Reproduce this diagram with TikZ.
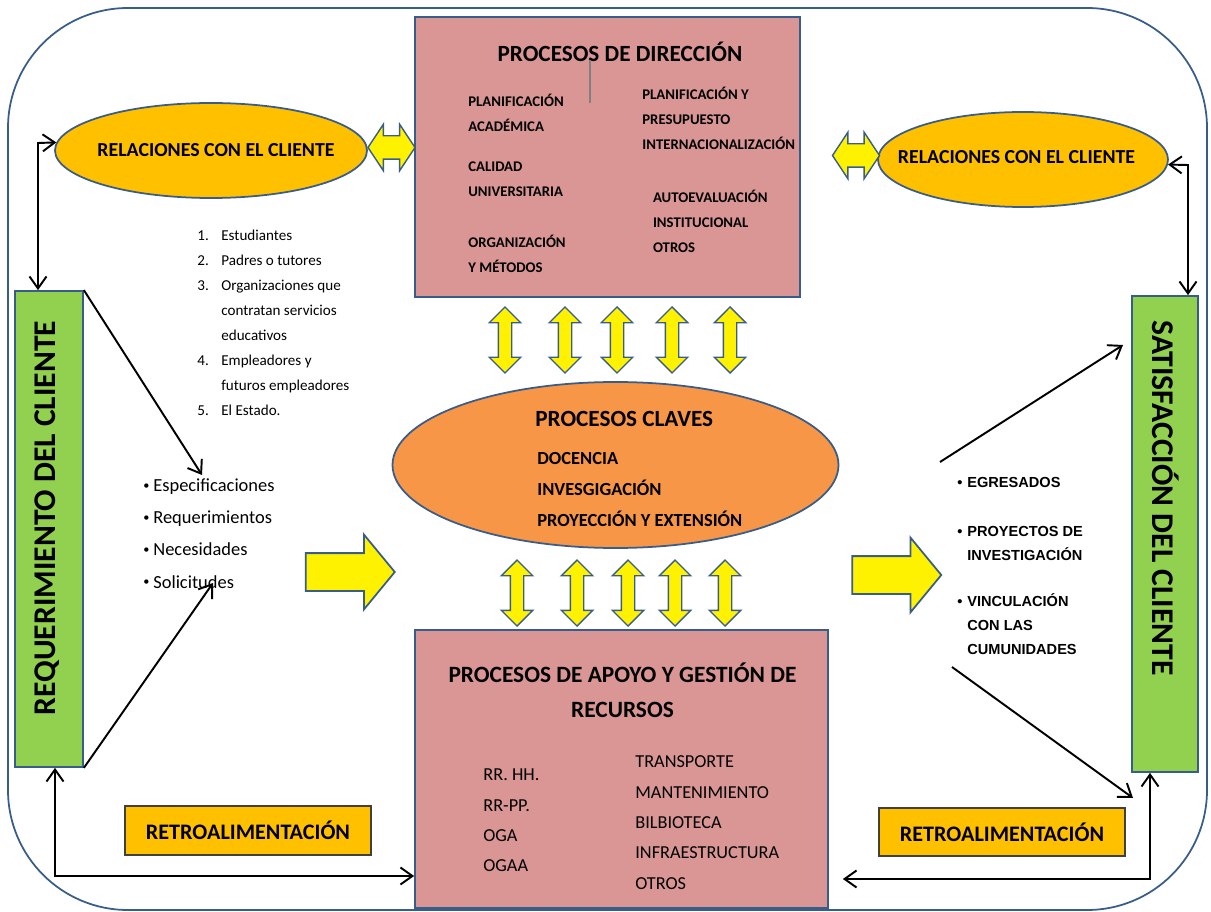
\documentclass[tikz,border=0pt]{standalone}
\usepackage{fontspec}
\setmainfont{Carlito}
\newfontfamily\arialfont{Liberation Sans}
\usetikzlibrary{shapes.geometric,shapes.arrows,arrows.meta}
\definecolor{dirpink}{HTML}{D99694}
\definecolor{edgeblue}{HTML}{385D8A}
\definecolor{gold}{HTML}{FFC000}
\definecolor{leafgreen}{HTML}{92D050}
\definecolor{keyorange}{HTML}{F79646}
\newcommand{\px}{0.02cm}
\newcommand{\fsDirTitle}{\fontsize{13.2}{16}\selectfont\bfseries}
\newcommand{\fsDir}{\fontsize{8.4}{14.3}\selectfont\bfseries}
\newcommand{\fsRel}{\fontsize{11.3}{13}\selectfont\bfseries}
\newcommand{\fsList}{\fontsize{8.6}{14.3}\selectfont}
\newcommand{\fsBullet}{\fontsize{10.5}{18.3}\selectfont}
\newcommand{\fsClaveTitle}{\fontsize{13.2}{16}\selectfont\bfseries}
\newcommand{\fsClave}{\fontsize{10.5}{17.4}\selectfont\bfseries}
\newcommand{\fsApoyoTitle}{\fontsize{13.3}{19.9}\selectfont\bfseries}
\newcommand{\fsApoyo}{\fontsize{10.4}{17.25}\selectfont}
\newcommand{\fsRetro}{\fontsize{12.6}{15}\selectfont\bfseries}
\newcommand{\fsSide}{\fontsize{18}{22}\selectfont\bfseries}
\newcommand{\fsOut}{\arialfont\fontsize{8.3}{13.4}\selectfont\bfseries}
\newcommand{\bul}{\makebox[0.2cm][l]{\fontsize{7}{7}\selectfont\raisebox{0.35ex}{•}}}
\newcommand{\bulA}{\makebox[0.2cm][l]{•}}
\tikzset{
  >={Straight Barb[length=2.4mm,width=3.4mm]},
  box/.style={draw=edgeblue, line width=1pt, inner sep=0pt},
  txt/.style={anchor=base west, inner sep=0pt, align=left},
  link/.style={line width=1.1pt, black},
  hdarrow/.style={double arrow, draw=edgeblue, fill=yellow, line width=0.8pt,
    inner xsep=0pt, inner ysep=11*\px, double arrow head extend=11.5*\px,
    double arrow tip angle=113, minimum height=47*\px},
  vdarrow/.style={double arrow, rotate=90, draw=edgeblue, fill=yellow, line width=0.8pt,
    inner xsep=0pt, inner ysep=6*\px, double arrow head extend=9*\px,
    double arrow tip angle=90, minimum height=66*\px},
  barrow/.style={single arrow, draw=edgeblue, fill=yellow, line width=1pt,
    inner xsep=0pt, inner ysep=18*\px, single arrow head extend=18.5*\px,
    single arrow tip angle=101, minimum height=89*\px}
}
\begin{document}
\begin{tikzpicture}[x=\px, y=-\px]
\useasboundingbox (0,0) rectangle (1211,912);
%frame
\draw[draw=edgeblue, line width=1pt, rounded corners=2.4cm] (8,8) rectangle (1207,910);
%direccion (multi-line texts sit on their last line)
\node[box, fill=dirpink, minimum width=385*\px, minimum height=280*\px] (dir) at (607.5,157) {};
\node[anchor=base, inner sep=0pt, font=\fsDirTitle] (dirT) at (620,61.7) {PROCESOS DE DIRECCIÓN};
\draw[gray, line width=0.6pt] (590,60) -- (590,102.7);
\node[txt, font=\fsDir] (planA) at (468,131.7) {PLANIFICACIÓN\\ACADÉMICA};
\node[txt, font=\fsDir] (calidad) at (468,197) {CALIDAD\\UNIVERSITARIA};
\node[txt, font=\fsDir] (orgM) at (468,272.7) {ORGANIZACIÓN\\Y MÉTODOS};
\node[txt, font=\fsDir] (planP) at (642,150) {PLANIFICACIÓN Y\\PRESUPUESTO\\INTERNACIONALIZACIÓN};
\node[txt, font=\fsDir] (autoev) at (652.7,253) {AUTOEVALUACIÓN\\INSTITUCIONAL\\OTROS};
%relaciones
\node[ellipse, draw=edgeblue, line width=1pt, fill=gold, minimum width=312*\px, minimum height=95*\px,
  inner sep=0pt] (relL) at (211,150.5) {};
\node[inner sep=0pt, font=\fsRel] (relLT) at (216,150) {RELACIONES CON EL CLIENTE};
\node[ellipse, draw=edgeblue, line width=1pt, fill=gold, minimum width=290*\px, minimum height=95*\px,
  inner sep=0pt] (relR) at (1023,159.5) {};
\node[inner sep=0pt, font=\fsRel] (relRT) at (1016.5,157.3) {RELACIONES CON EL CLIENTE};
\node[hdarrow] (dL) at (391.5,147.5) {};
\node[hdarrow] (dR) at (856,155.5) {};
%claves
\node[ellipse, draw=edgeblue, line width=1pt, fill=keyorange, minimum width=446*\px, minimum height=166*\px] (claves) at (615.5,465) {};
\node[anchor=base west, inner sep=0pt, font=\fsClaveTitle] (clavesT) at (535,426.7) {PROCESOS CLAVES};
\node[txt, font=\fsClave] (clavesL) at (537,526) {DOCENCIA\\INVESGIGACIÓN\\PROYECCIÓN Y EXTENSIÓN};
\foreach \x [count=\i] in {505,565,617,672,730}
  \node[vdarrow] (up\i) at (\x,340) {};
\foreach \x [count=\i] in {517,577,628,675,725}
  \node[vdarrow] (down\i) at (\x,593) {};
%apoyo
\node[box, fill=dirpink, minimum width=413*\px, minimum height=278*\px] (apoyo) at (621.5,769) {};
\node[anchor=base, inner sep=0pt, align=center, font=\fsApoyoTitle] (apoyoT) at (622.5,717) {PROCESOS DE APOYO Y GESTIÓN DE\\RECURSOS};
\node[txt, font=\fsApoyo] (apoyoL) at (483,871.7) {RR. HH.\\RR-PP.\\OGA\\OGAA};
\node[txt, font=\fsApoyo] (apoyoR) at (635,889) {TRANSPORTE\\MANTENIMIENTO\\BILBIOTECA\\INFRAESTRUCTURA\\OTROS};
%cliente
\node[box, fill=leafgreen, minimum width=68*\px, minimum height=476*\px] (req) at (49,529) {};
\node[rotate=90, inner sep=0pt, font=\fsSide] (reqT) at (47,518) {REQUERIMIENTO DEL CLIENTE};
\node[box, fill=leafgreen, minimum width=66*\px, minimum height=476*\px] (sat) at (1165,534) {};
\node[rotate=-90, inner sep=0pt, font=\fsSide] (satT) at (1166,498) {SATISFACCIÓN DEL CLIENTE};
\node[txt, font=\fsList] (clientes) at (197,416) {\makebox[0.48cm][l]{1.}Estudiantes\\
  \makebox[0.48cm][l]{2.}Padres o tutores\\
  \makebox[0.48cm][l]{3.}Organizaciones que\\
  \hspace*{0.48cm}contratan servicios\\
  \hspace*{0.48cm}educativos\\
  \makebox[0.48cm][l]{4.}Empleadores y\\
  \hspace*{0.48cm}futuros empleadores\\
  \makebox[0.48cm][l]{5.}El Estado.};
\node[txt, font=\fsBullet] (reqs) at (143,588) {\bul Especificaciones\\
  \bul Requerimientos\\
  \bul Necesidades\\
  \bul Solicitudes};
\node[barrow] (inA) at (342.5,572) {};
\node[barrow] (outA) at (889,575) {};
\node[txt, font=\fsOut] (egr) at (957,487) {\bulA EGRESADOS};
\node[txt, font=\fsOut] (proy) at (957,560) {\bulA PROYECTOS DE\\\hspace*{0.2cm}INVESTIGACIÓN};
\node[txt, font=\fsOut] (vinc) at (957,654) {\bulA VINCULACIÓN\\\hspace*{0.2cm}CON LAS\\\hspace*{0.2cm}CUMUNIDADES};
%retro
\node[draw=black!75, line width=0.8pt, fill=gold, minimum width=246*\px, minimum height=49*\px,
  inner sep=0pt, font=\fsRetro] (retroL) at (248,830.5) {RETROALIMENTACIÓN};
\node[draw=black!75, line width=0.8pt, fill=gold, minimum width=246*\px, minimum height=48*\px,
  inner sep=0pt, font=\fsRetro] (retroR) at (1002,832) {RETROALIMENTACIÓN};
%links
\coordinate (cL) at (38,143);
\coordinate (cR) at (1188,165);
\coordinate (inTop) at (202,475);
\coordinate (inBot) at (213,583);
\coordinate (outTop) at (940,462);
\coordinate (satIn) at (1123,345);
\coordinate (outBot) at (952,667);
\coordinate (satOut) at (1133,798);
\coordinate (fbL) at (55,876);
\coordinate (fbR) at (1150,879);
\draw[link, <->] (relL.177) -- (cL) -- (cL |- req.north);
\draw[link, <->] (relR.-2) -- (cR) -- (cR |- sat.north);
\draw[link, ->] (req.north east) -- (inTop);
\draw[link, ->] (req.south east) -- (inBot);
\draw[link, ->] (outTop) -- (satIn);
\draw[link, ->] (outBot) -- (satOut);
\draw[link, <->] (req.south -| fbL) -- (fbL) -- (fbL -| apoyo.west);
\draw[link, <->, shorten >=14*\px] (sat.south -| fbR) -- (fbR) -- (fbR -| apoyo.east);
\end{tikzpicture}
\end{document}
